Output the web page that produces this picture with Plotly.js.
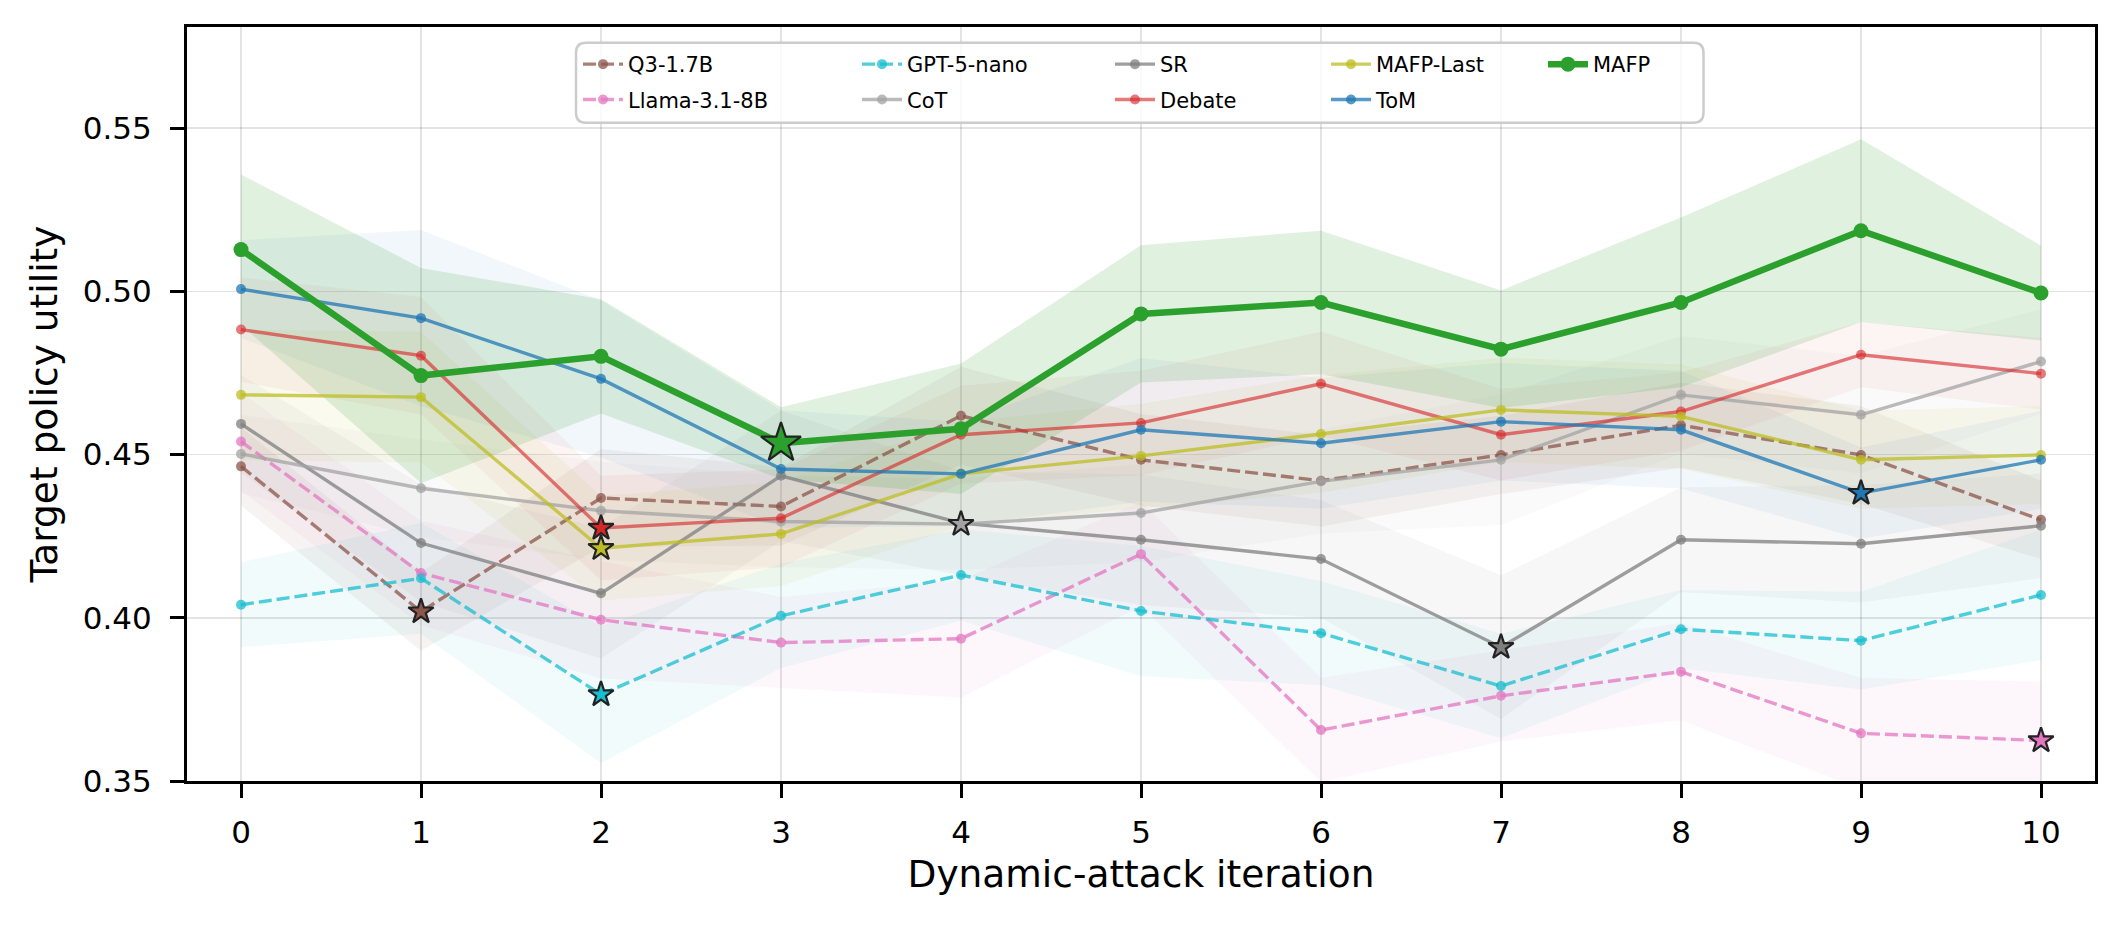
<!DOCTYPE html>
<html>
<head>
<meta charset="utf-8">
<script src="https://cdn.plot.ly/plotly-3.0.1.min.js"></script>
<style>html,body{margin:0;padding:0;background:#fff;}#chart{width:2123px;height:926px;}</style>
</head>
<body>
<div id="chart"></div>
<script>
// ---------------- data ----------------
const iterations = [0, 1, 2, 3, 4, 5, 6, 7, 8, 9, 10];
const xTickLabels = ['0', '1', '2', '3', '4', '5', '6', '7', '8', '9', '10'];
const yTickValues = [0.35, 0.40, 0.45, 0.50, 0.55];

const q3Mean       = [0.4464, 0.4019, 0.4367, 0.4341, 0.4619, 0.4484, 0.4420, 0.4499, 0.4590, 0.4499, 0.4300];
const llamaMean    = [0.4540, 0.4137, 0.3994, 0.3924, 0.3936, 0.4195, 0.3656, 0.3761, 0.3835, 0.3646, 0.3624];
const gptMean      = [0.4040, 0.4121, 0.3765, 0.4006, 0.4131, 0.4021, 0.3953, 0.3791, 0.3965, 0.3930, 0.4070];
const srMean       = [0.4594, 0.4229, 0.4075, 0.4435, 0.4290, 0.4239, 0.4180, 0.3910, 0.4239, 0.4227, 0.4282];
const cotMean      = [0.4502, 0.4397, 0.4328, 0.4295, 0.4287, 0.4321, 0.4418, 0.4484, 0.4683, 0.4622, 0.4785];
const debateMean   = [0.4883, 0.4803, 0.4275, 0.4305, 0.4561, 0.4597, 0.4717, 0.4561, 0.4632, 0.4806, 0.4748];
const mafpLastMean = [0.4683, 0.4676, 0.4213, 0.4257, 0.4441, 0.4496, 0.4563, 0.4637, 0.4617, 0.4484, 0.4499];
const tomMean      = [0.5007, 0.4918, 0.4732, 0.4456, 0.4441, 0.4576, 0.4535, 0.4601, 0.4576, 0.4382, 0.4484];
const mafpMean     = [0.5128, 0.4742, 0.4801, 0.4535, 0.4579, 0.4931, 0.4966, 0.4823, 0.4966, 0.5186, 0.4995];

const q3Std       = [0.012, 0.012, 0.015, 0.012, 0.015, 0.014, 0.014, 0.012, 0.013, 0.015, 0.012];
const llamaStd    = [0.015, 0.016, 0.018, 0.014, 0.018, 0.016, 0.016, 0.014, 0.015, 0.017, 0.018];
const gptStd      = [0.013, 0.017, 0.021, 0.016, 0.014, 0.020, 0.016, 0.016, 0.012, 0.015, 0.020];
const srStd       = [0.015, 0.018, 0.020, 0.020, 0.016, 0.020, 0.018, 0.022, 0.016, 0.018, 0.016];
const cotStd      = [0.012, 0.015, 0.015, 0.014, 0.014, 0.015, 0.016, 0.020, 0.018, 0.018, 0.016];
const debateStd   = [0.016, 0.018, 0.016, 0.015, 0.015, 0.016, 0.016, 0.014, 0.012, 0.010, 0.011];
const mafpLastStd = [0.020, 0.020, 0.016, 0.016, 0.016, 0.016, 0.018, 0.016, 0.016, 0.015, 0.015];
const tomStd      = [0.015, 0.027, 0.024, 0.018, 0.016, 0.022, 0.020, 0.018, 0.018, 0.014, 0.015];
const mafpStd     = [0.023, 0.033, 0.0175, 0.011, 0.020, 0.021, 0.022, 0.018, 0.026, 0.028, 0.0145];

const seriesNames = ['Q3-1.7B', 'Llama-3.1-8B', 'GPT-5-nano', 'SR', 'CoT', 'Debate', 'MAFP-Last', 'ToM', 'MAFP'];

// ---------------- styles ----------------
const styles = [
  {mean: q3Mean,       std: q3Std,       color: '#8c564b', dash: '13px,5px', lw: 3.4, ms: 10, alpha: 0.75, band: 0.07, star: 19, legend: 'legend'},
  {mean: llamaMean,    std: llamaStd,    color: '#e377c2', dash: '13px,5px', lw: 3.4, ms: 10, alpha: 0.75, band: 0.06, star: 19, legend: 'legend'},
  {mean: gptMean,      std: gptStd,      color: '#17becf', dash: '13px,5px', lw: 3.4, ms: 10, alpha: 0.75, band: 0.06, star: 19, legend: 'legend2'},
  {mean: srMean,       std: srStd,       color: '#7f7f7f', dash: 'solid',    lw: 3.4, ms: 10, alpha: 0.75, band: 0.06, star: 19, legend: 'legend3'},
  {mean: cotMean,      std: cotStd,      color: '#a3a3a3', dash: 'solid',    lw: 3.4, ms: 10, alpha: 0.75, band: 0.06, star: 19, legend: 'legend2'},
  {mean: debateMean,   std: debateStd,   color: '#d62728', dash: 'solid',    lw: 3.4, ms: 10, alpha: 0.62, band: 0.05, star: 19, legend: 'legend3'},
  {mean: mafpLastMean, std: mafpLastStd, color: '#bcbd22', dash: 'solid',    lw: 3.4, ms: 10, alpha: 0.75, band: 0.07, star: 19, legend: 'legend4'},
  {mean: tomMean,      std: tomStd,      color: '#1f77b4', dash: 'solid',    lw: 3.4, ms: 10, alpha: 0.75, band: 0.06, star: 19, legend: 'legend4'},
  {mean: mafpMean,     std: mafpStd,     color: '#2ca02c', dash: 'solid',    lw: 6.5, ms: 15, alpha: 1.0,  band: 0.15, star: 30, legend: 'legend5'}
];

function rgba(hex, a) {
  const r = parseInt(hex.slice(1, 3), 16), g = parseInt(hex.slice(3, 5), 16), b = parseInt(hex.slice(5, 7), 16);
  return 'rgba(' + r + ',' + g + ',' + b + ',' + a + ')';
}

const traces = [];
styles.forEach(function (s, k) {
  const upper = s.mean.map(function (v, i) { return v + s.std[i]; });
  const lower = s.mean.map(function (v, i) { return v - s.std[i]; });
  traces.push({
    x: iterations.concat(iterations.slice().reverse()),
    y: upper.concat(lower.slice().reverse()),
    type: 'scatter', mode: 'lines', fill: 'toself',
    fillcolor: rgba(s.color, s.band), line: {width: 0, color: 'rgba(0,0,0,0)'},
    showlegend: false, hoverinfo: 'skip'
  });
});
styles.forEach(function (s, k) {
  traces.push({
    x: iterations, y: s.mean, name: seriesNames[k],
    type: 'scatter', mode: 'lines+markers',
    line: {color: rgba(s.color, s.alpha), width: s.lw, dash: s.dash},
    marker: {color: rgba(s.color, s.alpha), size: s.ms, line: {width: 0}},
    legend: s.legend, legendgroup: 'g' + k, showlegend: true
  });
});
styles.forEach(function (s, k) {
  let idx = 0;
  s.mean.forEach(function (v, i) { if (v < s.mean[idx]) idx = i; });
  traces.push({
    x: [iterations[idx]], y: [s.mean[idx]],
    type: 'scatter', mode: 'markers',
    marker: {symbol: 'star', size: s.star, color: s.color, line: {color: '#222222', width: 2.2}},
    showlegend: false, hoverinfo: 'skip'
  });
});

// ---------------- layout ----------------
const W = 2123, H = 926;
const M = {l: 187, r: 28, t: 27, b: 145};
const PW = W - M.l - M.r, PH = H - M.t - M.b;
function px(xp) { return (xp - M.l) / PW; }
function py(yp) { return (H - M.b - yp) / PH; }

function roundedRect(x0, y0, x1, y1, r) {
  const rx = r / PW, ry = r / PH;
  const X0 = px(x0), X1 = px(x1), Y0 = py(y0), Y1 = py(y1);
  return 'M' + (X0 + rx) + ',' + Y0 +
    ' L' + (X1 - rx) + ',' + Y0 +
    ' Q' + X1 + ',' + Y0 + ' ' + X1 + ',' + (Y0 - ry) +
    ' L' + X1 + ',' + (Y1 + ry) +
    ' Q' + X1 + ',' + Y1 + ' ' + (X1 - rx) + ',' + Y1 +
    ' L' + (X0 + rx) + ',' + Y1 +
    ' Q' + X0 + ',' + Y1 + ' ' + X0 + ',' + (Y1 + ry) +
    ' L' + X0 + ',' + (Y0 - ry) +
    ' Q' + X0 + ',' + Y0 + ' ' + (X0 + rx) + ',' + Y0 + ' Z';
}

const FONT = 'DejaVu Sans, Liberation Sans, sans-serif';
function legendAt(xPix) {
  return {
    x: px(xPix), xanchor: 'left', xref: 'paper',
    y: py(44), yanchor: 'top', yref: 'paper',
    orientation: 'v', bgcolor: 'rgba(0,0,0,0)', borderwidth: 0,
    tracegroupgap: 5,
    font: {family: FONT, size: 21, color: '#000'}, itemwidth: 40
  };
}

const layout = {
  width: W, height: H,
  margin: M,
  paper_bgcolor: '#ffffff', plot_bgcolor: '#ffffff',
  font: {family: FONT, color: '#000'},
  showlegend: true,
  legend: legendAt(578),
  legend2: legendAt(857),
  legend3: legendAt(1110),
  legend4: legendAt(1326),
  legend5: legendAt(1543),
  xaxis: {
    range: [-0.3, 10.3], tickvals: iterations, ticktext: xTickLabels,
    showgrid: true, gridcolor: 'rgba(0,0,0,0.11)', gridwidth: 1.5,
    zeroline: false, showline: true, linecolor: '#000', linewidth: 3, mirror: true,
    ticks: 'outside', ticklen: 14, tickwidth: 3, tickcolor: '#000', ticklabelstandoff: 8,
    tickfont: {family: FONT, size: 31, color: '#000'},
    title: {text: 'Dynamic-attack iteration', font: {family: FONT, size: 37.5, color: '#000'}, standoff: 12}
  },
  yaxis: {
    range: [0.35, 0.581], tickvals: yTickValues, tickformat: '.2f',
    showgrid: true, gridcolor: 'rgba(0,0,0,0.11)', gridwidth: 1.5,
    zeroline: false, showline: true, linecolor: '#000', linewidth: 3, mirror: true,
    ticks: 'outside', ticklen: 14, tickwidth: 3, tickcolor: '#000', ticklabelstandoff: 12,
    tickfont: {family: FONT, size: 31, color: '#000'},
    title: {text: 'Target policy utility', font: {family: FONT, size: 37.5, color: '#000'}, standoff: 14}
  },
  shapes: [{
    type: 'path', xref: 'paper', yref: 'paper', layer: 'above',
    path: roundedRect(576, 42.7, 1703.5, 122.7, 10),
    line: {color: '#cccccc', width: 2.5}, fillcolor: 'rgba(255,255,255,0.8)'
  }]
};

Plotly.newPlot('chart', traces, layout, {displayModeBar: false, staticPlot: true});
</script>
</body>
</html>
